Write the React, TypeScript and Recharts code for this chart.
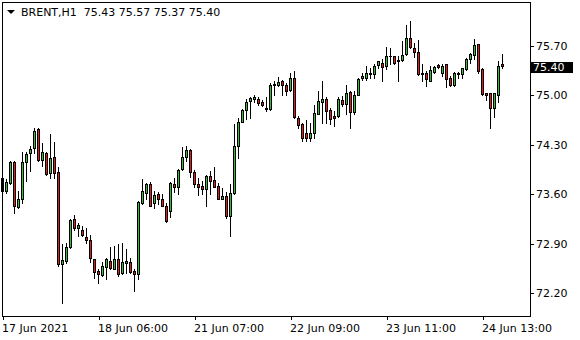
import React from "react";
import { Bar, BarChart, XAxis, YAxis } from "recharts";

// BRENT H1 candles (oldest first)
const opens = [
  73.82, 73.63, 73.75, 74.05, 73.41, 73.52, 74.04, 74.18, 74.24, 74.51,
  74.07, 74.18, 73.89, 74.12, 73.91, 72.61, 72.64, 72.85, 73.24, 73.12,
  73.09, 72.98, 72.94, 72.68, 72.5, 72.45, 72.56, 72.65, 72.54, 72.68,
  72.47, 72.62, 72.63, 72.5, 72.46, 73.46, 73.61, 73.74, 73.47, 73.6,
  73.53, 73.43, 73.35, 73.74, 73.7, 73.95, 74.12, 74.22, 73.91, 73.73,
  73.71, 73.67, 73.85, 73.79, 73.71, 73.53, 73.57, 73.29, 73.61, 74.27,
  74.62, 74.78, 74.91, 74.94, 74.94, 74.9, 74.81, 74.79, 75.13, 75.14,
  75.2, 75.13, 75.07, 75.23, 74.67, 74.59, 74.46, 74.39, 74.46, 74.73,
  74.89, 74.94, 74.78, 74.7, 74.7, 74.93, 74.87, 75.04, 74.75, 75.0,
  75.23, 75.24, 75.29, 75.29, 75.42, 75.45, 75.4, 75.54, 75.54, 75.49,
  75.49, 75.58, 75.8, 75.66, 75.61, 75.3, 75.3, 75.2, 75.32, 75.42,
  75.3, 75.43, 75.24, 75.14, 75.29, 75.29, 75.36, 75.51, 75.56, 75.71,
  75.36, 75.02, 75.02, 74.81, 75.0, 75.43,
];
const highs = [
  73.89, 73.8, 74.06, 74.06, 73.64, 74.19, 74.19, 74.27, 74.53, 74.53,
  74.32, 74.19, 74.44, 74.33, 73.97, 72.88, 72.9, 73.24, 73.3, 73.19,
  73.14, 73.12, 73.02, 72.68, 72.53, 72.63, 72.69, 72.84, 72.86, 72.88,
  72.9, 72.82, 72.69, 72.53, 73.49, 73.81, 73.75, 73.76, 73.63, 73.62,
  73.59, 73.47, 73.76, 73.82, 73.95, 74.26, 74.27, 74.23, 73.94, 73.82,
  73.78, 73.86, 73.92, 73.98, 73.75, 73.68, 73.62, 73.74, 74.58, 74.67,
  74.8, 74.94, 74.97, 74.99, 74.96, 74.93, 74.96, 75.17, 75.19, 75.25,
  75.21, 75.17, 75.3, 75.34, 74.7, 74.6, 74.64, 74.6, 74.85, 75.05,
  75.19, 74.97, 74.81, 74.77, 74.96, 74.98, 75.13, 75.05, 75.05, 75.24,
  75.3, 75.4, 75.38, 75.43, 75.48, 75.5, 75.68, 75.66, 75.55, 75.54,
  75.76, 75.99, 76.04, 75.73, 75.78, 75.44, 75.33, 75.41, 75.4, 75.44,
  75.44, 75.44, 75.26, 75.32, 75.32, 75.38, 75.52, 75.59, 75.79, 75.71,
  75.37, 75.02, 75.02, 75.02, 75.47, 75.57,
];
const lows = [
  73.61, 73.61, 73.74, 73.33, 73.4, 73.47, 73.78, 73.92, 74.18, 74.06,
  73.99, 73.87, 73.82, 73.82, 72.57, 72.05, 72.62, 72.83, 73.09, 73.0,
  73.0, 72.9, 72.63, 72.41, 72.34, 72.43, 72.39, 72.54, 72.53, 72.43,
  72.46, 72.48, 72.48, 72.22, 72.39, 73.45, 73.53, 73.42, 73.39, 73.45,
  73.42, 73.2, 73.27, 73.62, 73.59, 73.94, 74.06, 73.84, 73.7, 73.58,
  73.6, 73.42, 73.59, 73.69, 73.52, 73.52, 73.26, 73.0, 73.59, 74.11,
  74.61, 74.66, 74.67, 74.89, 74.86, 74.84, 74.77, 74.78, 74.99, 75.12,
  74.99, 75.0, 75.05, 74.67, 74.53, 74.34, 74.35, 74.34, 74.39, 74.72,
  74.6, 74.6, 74.58, 74.55, 74.69, 74.84, 74.72, 74.53, 74.72, 74.99,
  75.21, 75.21, 75.24, 75.24, 75.37, 75.2, 75.36, 75.43, 75.43, 75.2,
  75.47, 75.56, 75.66, 75.53, 75.28, 75.2, 75.12, 75.19, 75.31, 75.37,
  75.26, 75.11, 75.12, 75.12, 75.24, 75.24, 75.35, 75.45, 75.5, 75.3,
  74.99, 74.93, 74.53, 74.69, 74.89, 75.37,
];
const closes = [
  73.63, 73.77, 74.05, 73.42, 73.52, 74.05, 74.16, 74.23, 74.48, 74.07,
  74.19, 73.88, 74.11, 73.89, 72.6, 72.66, 72.85, 73.23, 73.12, 73.16,
  73.01, 72.95, 72.69, 72.49, 72.46, 72.58, 72.67, 72.55, 72.67, 72.46,
  72.63, 72.64, 72.49, 72.46, 73.48, 73.63, 73.74, 73.43, 73.58, 73.53,
  73.43, 73.21, 73.75, 73.7, 73.94, 74.12, 74.22, 73.91, 73.74, 73.7,
  73.67, 73.85, 73.78, 73.7, 73.53, 73.57, 73.29, 73.61, 74.27, 74.62,
  74.78, 74.9, 74.95, 74.96, 74.88, 74.85, 74.79, 75.13, 75.15, 75.18,
  75.13, 75.05, 75.23, 74.69, 74.57, 74.38, 74.38, 74.46, 74.74, 74.91,
  74.94, 74.77, 74.66, 74.67, 74.94, 74.87, 75.03, 74.75, 75.0, 75.22,
  75.26, 75.3, 75.3, 75.4, 75.47, 75.39, 75.54, 75.55, 75.45, 75.47,
  75.56, 75.8, 75.68, 75.61, 75.29, 75.29, 75.22, 75.35, 75.39, 75.39,
  75.4, 75.22, 75.13, 75.3, 75.31, 75.37, 75.51, 75.58, 75.7, 75.33,
  75.01, 74.99, 74.81, 75.02, 75.41, 75.4,
];

const xLabels = ["17 Jun 2021", "18 Jun 06:00", "21 Jun 07:00", "22 Jun 09:00", "23 Jun 11:00", "24 Jun 13:00"];
const barsPerLabel = 24;
const priceTicks = [72.2, 72.9, 73.6, 74.3, 75.0, 75.7];
const lastPrice = 75.4;
const header = ["BRENT,H1", "75.43", "75.57", "75.37", "75.40"];

const data = opens.map((open, i) => ({
  i,
  open,
  high: highs[i],
  low: lows[i],
  close: closes[i],
}));

const FONT = "'DejaVu Sans', Tahoma, sans-serif";
const BULL = "#33c133";
const BEAR = "#e31b1b";

function Candle(props: any) {
  const { x, y, width, height, payload } = props;
  if (x == null || !payload) return null;
  const { open, close, high, low } = payload;
  const span = high - low || 1;
  const row = (v: number) => Math.floor(y + ((high - v) / span) * height);
  const c = Math.floor(x + width / 2);
  const hi = row(high);
  const lo = row(low);
  const top = row(Math.max(open, close));
  const bot = row(Math.min(open, close));
  return (
    <g shapeRendering="crispEdges">
      <rect x={c} y={hi} width={1} height={lo - hi + 1} fill="#000" />
      <rect x={c - 1} y={top} width={3} height={bot - top + 1} fill="#000" />
      {bot - top > 1 && (
        <rect x={c} y={top + 1} width={1} height={bot - top - 1} fill={close >= open ? BULL : BEAR} />
      )}
    </g>
  );
}

function PriceTick({ y, payload }: any) {
  const r = Math.round(y);
  const v = payload.value as number;
  if (v === lastPrice) {
    return (
      <g shapeRendering="crispEdges">
        <rect x={531} y={r - 5} width={42} height={11} fill="#000" />
        <text x={533} y={r + 4} fill="#fff" fontSize={11} fontFamily={FONT}>
          {v.toFixed(2)}
        </text>
      </g>
    );
  }
  return (
    <g>
      <rect x={531} y={r} width={3} height={1} fill="#000" shapeRendering="crispEdges" />
      <text x={536} y={r + 4} fill="#000" fontSize={11} fontFamily={FONT}>
        {v.toFixed(2)}
      </text>
    </g>
  );
}

function TimeTick({ x, payload }: any) {
  const c = Math.floor(x);
  const label = xLabels[Math.round(payload.value / barsPerLabel)];
  return (
    <g>
      <rect x={c} y={316} width={1} height={4} fill="#000" shapeRendering="crispEdges" />
      <text x={c - 1} y={332} fill="#000" fontSize={11} fontFamily={FONT}>
        {label}
      </text>
    </g>
  );
}

export default function App() {
  return (
    <div style={{ position: "absolute", left: 0, top: 0, width: 580, height: 340, background: "#fff" }}>
      <BarChart width={580} height={340} data={data} margin={{ top: 2, right: 0, bottom: 0, left: 1 }}>
        <XAxis
          dataKey="i"
          height={23.5}
          interval={barsPerLabel - 1}
          padding={{ left: 0, right: 25.5 }}
          axisLine={false}
          tickLine={false}
          tick={<TimeTick />}
        />
        <YAxis
          orientation="right"
          width={49.5}
          domain={[71.868, 76.318]}
          allowDataOverflow
          ticks={[...priceTicks, lastPrice]}
          interval={0}
          axisLine={false}
          tickLine={false}
          tick={<PriceTick />}
        />
        <Bar dataKey={(d: any) => [d.low, d.high]} shape={<Candle />} isAnimationActive={false} />
      </BarChart>
      <div
        style={{
          position: "absolute",
          left: 2,
          top: 2,
          width: 529,
          height: 315,
          border: "1px solid #000",
          boxSizing: "border-box",
          pointerEvents: "none",
        }}
      />
      <svg width={580} height={20} style={{ position: "absolute", left: 0, top: 0 }}>
        <polygon points="7,10 15,10 11,14" fill="#000" />
        <text x={21} y={16} fontSize={11} fontFamily={FONT} fill="#000" xmlSpace="preserve">
          {header.slice(0, 1).join("") + "  " + header.slice(1).join(" ")}
        </text>
      </svg>
    </div>
  );
}
